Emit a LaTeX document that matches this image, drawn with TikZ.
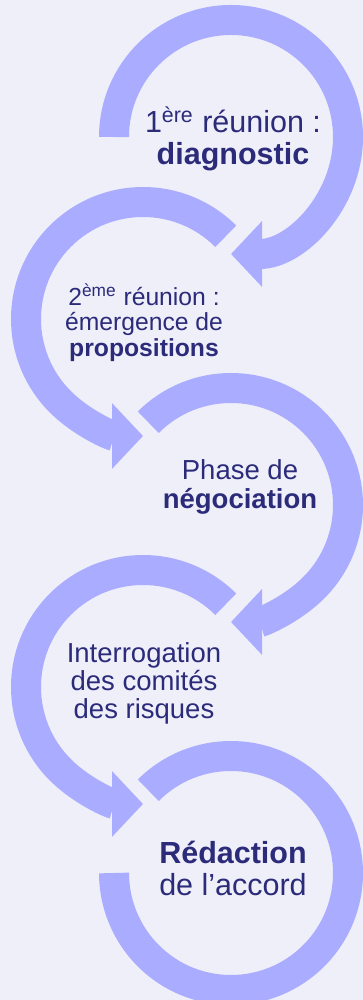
\documentclass[tikz,border=0pt]{standalone}
\usepackage{fontspec}
\setmainfont{Liberation Sans}
\usetikzlibrary{arrows.meta}
\definecolor{fondlav}{RGB}{239,239,250}
\definecolor{flechelav}{RGB}{170,172,255}
\definecolor{texteblue}{RGB}{43,43,122}
\tikzset{
	fleche/.style={line width=15pt, color=flechelav},
	pointe/.style={-{Triangle[length=15.5pt, width=32pt]}},
	etape/.style={align=center, text=texteblue, inner sep=0pt},
}
% boucle autour d'un centre : \boucle[options](centre)(debut:fin)
\def\boucle[#1](#2)(#3:#4){\draw[fleche,#1] (#2) ++(#3:117) arc[start angle=#3, end angle=#4, radius=117];}
\def\grand{\fontsize{15.25}{16}\selectfont}

\begin{document}
\begin{tikzpicture}[x=0.5pt, y=0.5pt]
		%%%%% START %%%%%
		
		\fill[fondlav] (0, 0) rectangle (363, 1000);
		\useasboundingbox (0, 0) rectangle (363, 1000);
		
		\coordinate (c1) at (231, 863);
		\coordinate (c2) at (143, 681);
		\coordinate (c3) at (231, 495);
		\coordinate (c4) at (143, 313);
		\coordinate (c5) at (231, 127);
		
		\boucle[pointe](c1)(180:-90)
		\boucle[pointe](c2)(45:270)
		\boucle[pointe](c3)(135:-90)
		\boucle[pointe](c4)(45:270)
		\boucle[](c5)(135:-180)
		
		\node[etape, font=\grand] (diag) at (233, 861) {1\textsuperscript{ère} réunion :\\\textbf{diagnostic}};
		\node[etape, font={\fontsize{12.35}{12.75}\selectfont}] (propo) at (144, 677.5) {2\textsuperscript{ème} réunion :\\émergence de\\\textbf{propositions}};
		\node[etape, font={\fontsize{13.75}{14.5}\selectfont}] (nego) at (240, 513.5) {Phase de\\\textbf{négociation}};
		\node[etape, font={\fontsize{13.75}{14}\selectfont}] (comites) at (144, 317) {Interrogation\\des comités\\des risques};
		\node[etape, font=\grand] (redac) at (233, 131.5) {\textbf{Rédaction}\\de l’accord};
		
		%%%%% END %%%%%
	\end{tikzpicture}
\end{document}
